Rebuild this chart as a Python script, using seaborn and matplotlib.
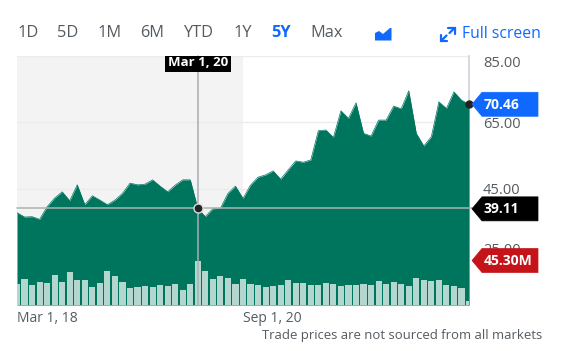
import numpy as np
import matplotlib.pyplot as plt
from matplotlib.patches import Polygon, Rectangle
from matplotlib.transforms import ScaledTranslation
import seaborn as sns

sns.set_theme(style="white")
plt.rcParams['font.family'] = ['Open Sans', 'DejaVu Sans']

# monthly closes, Mar 2018 to Mar 2023
price = [37.8, 36.5, 36.6, 35.8, 39.6, 42.2, 44.1, 41.4, 46.2, 40.2,
         42.9, 41.6, 40.2, 41.6, 43.6, 46.7, 46.2, 46.4, 47.7, 45.8,
         44.1, 46.1, 47.7, 47.7, 39.11, 36.6, 39.0, 39.1, 43.6, 45.8,
         42.1, 46.1, 48.5, 49.2, 50.4, 47.9, 50.7, 53.4, 53.0, 53.7,
         62.5, 62.7, 60.5, 68.5, 66.2, 70.9, 61.7, 60.9, 65.7, 65.7,
         69.9, 69.1, 74.5, 61.7, 57.9, 60.7, 71.2, 69.2, 74.2, 71.7, 70.46]
# monthly volume, millions
volume = [21.5, 26.6, 20.8, 23.8, 22.2, 30.7, 23.5, 33.4, 25.6, 25.6,
          18.7, 22.5, 34.5, 29.3, 23.5, 17.4, 18.7, 19.4, 18.4, 20.1,
          19.4, 21.2, 15.6, 21.8, 45.3, 34.8, 26.9, 29.3, 27.6, 21.5,
          26.9, 21.2, 20.1, 18.1, 19.1, 20.5, 25.3, 22.5, 22.5, 20.1,
          20.8, 22.8, 21.5, 19.1, 20.1, 20.1, 21.2, 20.5, 24.2, 21.5,
          23.5, 21.8, 19.4, 27.9, 25.3, 24.8, 25.9, 20.5, 19.4, 17.7, 4.4]
months = list(range(len(price)))

price_ticks = [25, 45, 65, 85]
price_labels = ['25.00', '45.00', '65.00', '85.00']
date_ticks = [0, 30]
date_labels = ['Mar 1, 18', 'Sep 1, 20']
tabs = ['1D', '5D', '1M', '6M', 'YTD', '1Y', '5Y', 'Max']
tab_x = [17, 57, 97, 140, 183, 233, 271, 310]

GREEN = '#00755d'
BAR = '#b3d6cf'
BLUE = '#0f69ff'
GREY = '#545b61'
W, H = 568, 351
TOP, BOTTOM, LEFT, RIGHT = 56, 305, 17, 469
YMIN, YMAX = 10, 85


def y_px(p):
    return TOP + (YMAX - p) * (BOTTOM - TOP) / (YMAX - YMIN)


fig = plt.figure(figsize=(W / 100, H / 100), dpi=100)
ax = fig.add_axes([LEFT / W, 1 - BOTTOM / H, (RIGHT - LEFT) / W, (BOTTOM - TOP) / H])
ax2 = ax.twinx()

# price area
ax.axvspan(0, 30, color='#f3f3f3', lw=0, zorder=0)
ax.grid(axis='y', color='#ececec', lw=1)
ax.set_axisbelow(True)
sns.lineplot(x=months, y=price, ax=ax, color=GREEN, linewidth=0.5, zorder=3)
ax.fill_between(months, price, YMIN, color=GREEN, lw=0, zorder=3)
ax.set_xlim(0, 60)
ax.set_ylim(YMIN, YMAX)
ax.yaxis.tick_right()
ax.set_yticks(price_ticks, price_labels)
ax.set_xticks(date_ticks, date_labels)
ax.tick_params(axis='y', length=0, pad=10, labelsize=10.5, labelcolor=GREY)
ax.tick_params(axis='x', length=0, pad=4.5, labelsize=10, labelcolor=GREY)
for lab in ax.get_xticklabels():
    lab.set_ha('left')
# the chart nudges the outer price labels away from the edges
for tick, dy in zip(ax.yaxis.get_major_ticks(), [7, 0, 0, -6]):
    lab = tick.label2
    lab.set_transform(lab.get_transform() + ScaledTranslation(0, dy / 100, fig.dpi_scale_trans))
sns.despine(ax=ax, left=True, bottom=True, top=True, right=False)
ax.spines['right'].set_color('#d3d3dc')

# volume bars
sns.barplot(x=months, y=volume, ax=ax2, color=BAR, saturation=1, width=0.82,
            native_scale=True, zorder=4, linewidth=0, edgecolor='none')
ax2.set_xlim(0, 60)
ax2.set_ylim(0, 254.6)
ax2.axis('off')

# everything else is drawn in pixel coordinates on top
ov = fig.add_axes([0, 0, 1, 1], facecolor='none')
ov.set_xlim(0, W)
ov.set_ylim(H, 0)
ov.axis('off')

cross_x = LEFT + months[24] * (RIGHT - LEFT) / 60
cross_y = y_px(price[24])
ov.plot([cross_x, cross_x], [TOP, BOTTOM], color='#a9aeb2', lw=1.3, alpha=0.85)
ov.plot([LEFT, 475], [cross_y, cross_y], color='#a9b4b2', lw=1.3, alpha=0.85)
ov.plot(cross_x, cross_y, 'o', ms=6.5, color='#222222', mec='#d8dcdc', mew=1)
ov.plot(RIGHT, y_px(price[-1]), 'o', ms=6, color='#222222', mew=0)


def tag(y, text, color):
    pts = [(472, y), (482, y - 12), (538, y - 12), (538, y + 12), (482, y + 12)]
    ov.add_patch(Polygon(pts, closed=True, fc=color, ec=color, lw=0.5, zorder=6,
                         joinstyle='round'))
    ov.text(484, y + 0.5, text, color='white', fontsize=10, fontweight='bold',
            va='center', ha='left', zorder=7)


tag(y_px(price[-1]), '70.46', BLUE)
tag(cross_y + 0.5, '39.11', '#000000')
tag(260.5, '45.30M', '#c4141a')

ov.add_patch(Rectangle((165, TOP), 66, 16, fc='black', lw=0, zorder=6))
ov.text(cross_x, TOP + 6.5, 'Mar 1, 20', color='white', fontsize=9.5, fontweight='bold',
        ha='center', va='center', zorder=7)

# range tabs
for name, x in zip(tabs, tab_x):
    active = name == '5Y'
    ov.text(x, 33, name, fontsize=11.8, ha='left', va='center',
            color=BLUE if active else GREY, fontweight='bold' if active else 'normal')

# chart type icon
ov.add_patch(Polygon([(375, 33), (379, 31), (383, 34), (390, 28), (391.5, 28), (391.5, 40.5), (375, 40.5)],
                     closed=True, fc=BLUE, lw=0))

# full screen icon
ov.plot([441, 441, 447], [35, 41, 41], color=BLUE, lw=1.6, solid_joinstyle='miter')
ov.plot([442, 446.5], [40, 35.5], color=BLUE, lw=1.6)
ov.plot([448, 454.5, 454.5], [28, 28, 34], color=BLUE, lw=1.6, solid_joinstyle='miter')
ov.plot([449.5, 454], [33, 28.5], color=BLUE, lw=1.6)
ov.text(462, 33.5, 'Full screen', color=BLUE, fontsize=11.3, ha='left', va='center')

ov.text(542, 336, 'Trade prices are not sourced from all markets', color=GREY,
        fontsize=9.45, ha='right', va='center')

fig.savefig('out.png', dpi=100)
